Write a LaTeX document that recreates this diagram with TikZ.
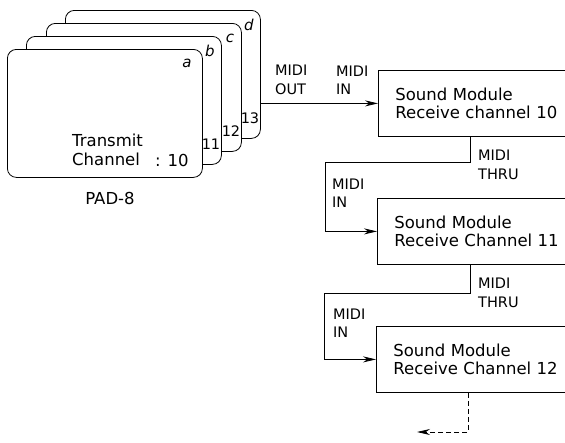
\documentclass[tikz,border=0pt]{standalone}
\usepackage{fontspec}
\setmainfont{DejaVu Sans}
\usetikzlibrary{arrows.meta,calc}

\begin{document}
\begin{tikzpicture}[x=1pt,y=-1pt,
    card/.style={draw, fill=white, line width=0.8pt, rounded corners=9pt,
        minimum width=195pt, minimum height=128pt, inner sep=0pt, anchor=north west},
    modbox/.style={draw, line width=0.8pt, anchor=north west, minimum height=66pt,
        text width=190pt, inner xsep=17pt, align=left,
        font=\fontsize{16.5}{18.5}\selectfont},
    midilbl/.style={align=left, anchor=west, inner sep=0pt,
        font=\fontsize{14.5}{18.5}\selectfont},
    bigtxt/.style={align=left, anchor=west, inner sep=0pt,
        font=\fontsize{16.5}{19.5}\selectfont},
    tagtxt/.style={font=\fontsize{15}{15}\selectfont\itshape},
    arr/.style={-{Stealth[length=13pt,width=6pt]}, line width=0.8pt}]
    \useasboundingbox (0,0) rectangle (565,442);
    \clip (0,0) rectangle (565,442);

    % stack of pad cards, back to front
    \foreach \l/\px/\py/\n in {d/65/10/13, c/46/23/12, b/26/36/11} {
        \node[card] (card\l) at (\px,\py) {};
        \node[tagtxt] (tag\l) at (\px+184,\py+15) {\l};
        \node[font=\fontsize{14.5}{14.5}\selectfont] (num\l) at (\px+185,\py+108) {\n};
    }
    \node[card] (carda) at (7,49) {};
    \node[tagtxt] (taga) at (187,63) {a};
    \node[bigtxt] (trans) at (72,150) {Transmit\\Channel};
    \node[bigtxt] (chan) at (155,160) {: 10};
    \node[font=\fontsize{16.5}{16.5}\selectfont] (pad) at (110,198) {PAD-8};

    % sound modules
    \node[modbox] (box1) at (378,70) {Sound Module\\Receive channel 10};
    \node[modbox] (box2) at (377,198) {Sound Module\\Receive Channel 11};
    \node[modbox] (box3) at (376,326) {Sound Module\\Receive Channel 12};

    % labels
    \node[midilbl] (out0) at (275,80) {MIDI\\OUT};
    \node[midilbl] (in1) at (336,80) {MIDI\\IN};
    \node[midilbl] (thru1l) at (478,165) {MIDI\\THRU};
    \node[midilbl] (in2) at (332,193) {MIDI\\IN};
    \node[midilbl] (thru2l) at (478,293) {MIDI\\THRU};
    \node[midilbl] (in3) at (333,323) {MIDI\\IN};

    % cables
    \coordinate (thru1) at ($(box1.south west)+(92,0)$);
    \coordinate (bend1) at (325,162);
    \coordinate (thru2) at ($(box2.south west)+(93,0)$);
    \coordinate (bend2) at (324,293);
    \coordinate (out3) at ($(box3.south west)+(92,0)$);
    \coordinate (nextdev) at (417,432);

    \draw[arr] (cardd.east |- box1.west) -- (box1.west);
    \draw[arr] (thru1) |- (bend1) |- (box2.west);
    \draw[arr] (thru2) |- (bend2) |- (box3.west);
    \draw[arr, dash pattern=on 5pt off 3pt] (out3) |- (nextdev);
\end{tikzpicture}
\end{document}
